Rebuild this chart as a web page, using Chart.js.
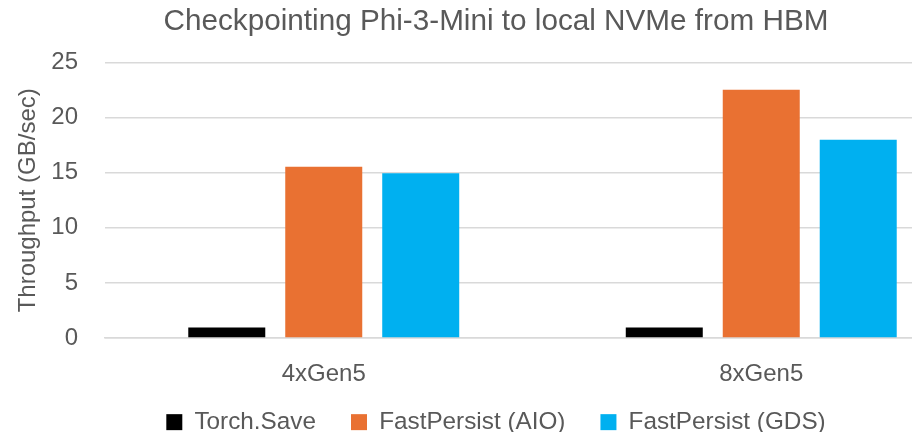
<!DOCTYPE html>
<html>
<head>
<meta charset="utf-8">
<script src="https://cdn.jsdelivr.net/npm/chart.js@4.4.1/dist/chart.umd.min.js"></script>
<style>
  html, body { margin: 0; padding: 0; background: #fff; overflow: hidden; }
  #wrap { position: absolute; left: 0; top: 0; width: 1010px; height: 445px; }
</style>
</head>
<body>
<div id="wrap"><canvas id="chart" width="1010" height="445"></canvas></div>
<script>
// data
const categories = ['4xGen5', '8xGen5'];
const torchSave = [0.95, 0.95];
const fastPersistAio = [15.55, 22.55];
const fastPersistGds = [14.95, 18.0];
const yTicks = [0, 5, 10, 15, 20, 25];

const textColor = '#595959';
const fontFamily = '"Liberation Sans", Arial, sans-serif';

// legend keeps wide item spacing but sits closer to the category labels
const legendNudge = {
    id: 'legendNudge',
    afterLayout(chart) {
        chart.legend.top -= 12;
        chart.legend.bottom -= 12;
    }
};

const ctx = document.getElementById('chart').getContext('2d');
new Chart(ctx, {
    type: 'bar',
    data: {
        labels: categories,
        datasets: [
            { label: 'Torch.Save', data: torchSave, backgroundColor: '#000000' },
            { label: 'FastPersist (AIO)', data: fastPersistAio, backgroundColor: '#E97132' },
            { label: 'FastPersist (GDS)', data: fastPersistGds, backgroundColor: '#00B0F0' }
        ]
    },
    plugins: [legendNudge],
    options: {
        responsive: false,
        animation: false,
        devicePixelRatio: 1,
        categoryPercentage: 0.665,
        barPercentage: 0.794,
        // plot area runs past the right edge of the window, as in the reference
        layout: { padding: { left: 12, right: 30, top: 0, bottom: 1 } },
        scales: {
            x: {
                grid: { display: false, drawTicks: false },
                border: { color: '#D9D9D9', width: 1.5 },
                ticks: { color: textColor, font: { family: fontFamily, size: 24, lineHeight: 1 }, padding: 24 },
                afterFit: (scale) => { scale.height = 49; }
            },
            y: {
                min: yTicks[0],
                max: yTicks[yTicks.length - 1],
                afterBuildTicks: (axis) => { axis.ticks = yTicks.map(v => ({ value: v })); },
                afterFit: (scale) => { scale.width = 93; },
                grid: { color: '#D9D9D9', lineWidth: 1.5, drawTicks: false },
                border: { display: false },
                ticks: { color: textColor, font: { family: fontFamily, size: 24 }, padding: 27 },
                title: {
                    display: true,
                    text: 'Throughput (GB/sec)',
                    color: textColor,
                    font: { family: fontFamily, size: 24 },
                    padding: { top: 2, bottom: 0 }
                }
            }
        },
        plugins: {
            title: {
                display: true,
                text: 'Checkpointing Phi-3-Mini to local NVMe from HBM',
                color: textColor,
                font: { family: fontFamily, size: 29.7, weight: 'normal' },
                padding: { top: 4, bottom: 23 }
            },
            legend: {
                position: 'bottom',
                maxHeight: 57,
                labels: {
                    color: textColor,
                    font: { family: fontFamily, size: 24.3 },
                    boxWidth: 16,
                    boxHeight: 16,
                    padding: 35
                }
            },
            tooltip: { enabled: false }
        }
    }
});
</script>
</body>
</html>
